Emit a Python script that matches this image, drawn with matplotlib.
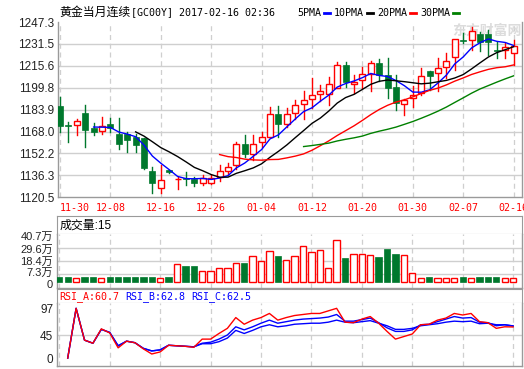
import numpy as np
import pandas as pd
import matplotlib
matplotlib.use('Agg')
import matplotlib.pyplot as plt
import matplotlib.transforms as mtransforms
from matplotlib.patches import Rectangle
from matplotlib.lines import Line2D

# ---- data ----
tick_idx = [0, 6, 12, 18, 24, 30, 36, 42, 48, 54]
tick_lab = ['11-30', '12-08', '12-16', '12-26', '01-04', '01-12', '01-20', '01-30', '02-07', '02-16']

opens = [1186.5, 1173.0, 1172.5, 1181.5, 1170.6, 1168.4, 1173.5, 1166.5, 1166.0, 1163.8,
         1163.4, 1139.5, 1127.4, 1140.0, 1133.7, 1134.2, 1133.5, 1130.6, 1130.6, 1135.4,
         1139.5, 1143.6, 1158.8, 1151.6, 1160.2, 1164.3, 1180.7, 1173.3, 1181.3, 1188.3,
         1191.4, 1195.0, 1195.0, 1199.9, 1216.3, 1202.7, 1205.4, 1209.5, 1217.5, 1209.0,
         1200.6, 1188.0, 1192.6, 1195.8, 1211.9, 1210.2, 1215.0, 1221.8, 1234.3, 1234.3,
         1238.4, 1238.4, 1227.1, 1227.1, 1224.7]
closes = [1172.3, 1171.8, 1175.4, 1169.4, 1167.9, 1171.8, 1170.8, 1158.8, 1161.9, 1158.5,
          1141.5, 1131.0, 1133.0, 1138.5, 1134.0, 1133.5, 1130.6, 1134.2, 1134.7, 1139.2,
          1142.1, 1158.8, 1151.8, 1158.8, 1163.8, 1180.7, 1173.3, 1180.6, 1187.3, 1190.7,
          1194.5, 1197.4, 1202.3, 1216.3, 1203.7, 1203.7, 1209.5, 1217.5, 1209.0, 1199.9,
          1189.0, 1190.9, 1194.5, 1208.5, 1208.5, 1213.8, 1219.4, 1235.1, 1233.6, 1241.1,
          1232.7, 1233.1, 1226.4, 1229.5, 1230.2]
highs = [1193.3, 1174.7, 1177.4, 1187.0, 1174.0, 1178.3, 1178.0, 1177.6, 1168.0, 1166.0,
         1163.6, 1142.6, 1143.8, 1140.5, 1134.9, 1139.0, 1134.9, 1136.6, 1136.6, 1143.8,
         1145.5, 1160.2, 1165.5, 1165.5, 1167.9, 1185.6, 1186.5, 1184.9, 1190.9, 1197.7,
         1207.1, 1201.8, 1207.8, 1218.7, 1218.2, 1209.0, 1215.0, 1219.4, 1220.6, 1221.1,
         1209.0, 1191.7, 1201.1, 1213.8, 1211.9, 1221.1, 1224.7, 1235.1, 1239.2, 1244.0,
         1240.4, 1241.6, 1233.1, 1231.9, 1234.3]
lows = [1168.0, 1160.2, 1165.8, 1157.1, 1165.5, 1166.3, 1168.0, 1155.6, 1153.0, 1153.0,
        1141.0, 1123.8, 1123.8, 1138.0, 1126.7, 1129.4, 1128.9, 1129.6, 1129.8, 1132.3,
        1137.1, 1140.9, 1149.9, 1147.2, 1157.1, 1164.3, 1164.0, 1171.6, 1176.9, 1176.9,
        1184.9, 1190.2, 1187.3, 1199.9, 1200.6, 1195.8, 1199.4, 1197.7, 1204.7, 1192.6,
        1183.7, 1180.1, 1186.1, 1194.5, 1198.2, 1197.4, 1206.6, 1212.6, 1231.9, 1227.1,
        1226.4, 1223.5, 1221.1, 1221.1, 1216.3]
# volume in 万
vols = [4.1, 4.1, 3.5, 4.1, 4.1, 3.5, 4.1, 4.1, 4.1, 4.1,
        4.1, 4.1, 3.5, 4.1, 16.0, 13.7, 13.7, 9.9, 9.9, 12.5,
        12.5, 16.9, 16.3, 22.9, 18.9, 27.3, 23.3, 19.5, 22.9, 31.7,
        26.4, 28.2, 12.5, 36.9, 21.5, 24.7, 24.7, 23.8, 22.4, 29.4,
        25.0, 23.8, 8.1, 3.8, 4.1, 3.8, 3.8, 3.8, 4.1, 3.8,
        4.1, 4.1, 4.1, 3.8, 3.8]
nan = np.nan
rsi_a = [nan, 0, 97, 35, 29, 57, 49, 20, 33, 30, 18, 8, 12, 25, 24, 23, 21, 37, 37, 48,
         58, 79, 66, 74, 79, 87, 74, 79, 83, 85, 87, 87, 92, 97, 70, 69, 76, 81, 68, 52,
         37, 42, 47, 65, 66, 74, 78, 87, 84, 87, 71, 69, 58, 61, 60.7]
rsi_b = [nan, 0, 97, 35, 29, 56, 50, 24, 33, 30, 19, 14, 16, 25, 24, 23, 22, 29, 31, 37,
         45, 61, 55, 61, 68, 74, 68, 71, 74, 76, 77, 78, 80, 85, 72, 72, 75, 78, 69, 59,
         52, 52, 55, 65, 66, 71, 76, 81, 78, 79, 70, 69, 63, 65, 62.8]
rsi_c = [nan, 0, 97, 35, 29, 56, 50, 24, 33, 30, 19, 14, 16, 25, 24, 23, 22, 28, 28, 32,
         39, 54, 48, 54, 61, 65, 61, 63, 66, 67, 68, 68, 70, 74, 70, 69, 71, 73, 68, 63,
         56, 56, 58, 63, 65, 67, 70, 72, 71, 72, 67, 68, 65, 65, 62.5]

price_ticks = [1120.5, 1136.3, 1152.2, 1168.0, 1183.9, 1199.8, 1215.6, 1231.5, 1247.3]
vol_ticks = [0, 7.3, 18.4, 29.6, 40.7]
vol_tick_lab = ['0', '7.3万', '18.4万', '29.6万', '40.7万']
rsi_ticks = [0, 45, 97]
ma_periods = [5, 10, 20, 30]
ma_colors = ['#0000ff', '#000000', '#ff0000', '#008000']

RED = '#ff0000'
GREEN = '#00782d'
GRID = '#cfcfcf'
EDGE = '#9a9a9a'
CJK = ['Liberation Sans', 'Noto Sans CJK SC']
MONO = 'DejaVu Sans Mono'

W, H = 524, 369
def box(x0, y0, x1, y1):
    # pixel box -> figure fraction
    return [x0/W, 1-y1/H, (x1-x0)/W, (y1-y0)/H]

fig = plt.figure(figsize=(W/100, H/100), dpi=100)
fig.patch.set_facecolor('white')

n = len(closes)
x = np.arange(n)
xlim = (-0.24, 55.0)
close_s = pd.Series(closes)

def style(ax):
    ax.set_xlim(*xlim)
    ax.spines['top'].set_visible(False)
    for s in ['left', 'right', 'bottom']:
        ax.spines[s].set_color(EDGE)
        ax.spines[s].set_linewidth(1)
    ax.set_xticks(tick_idx)
    for t in tick_idx:
        ax.axvline(t, color=GRID, lw=0.9, ls=(0, (4, 3)), zorder=0)
    ax.tick_params(length=0, labelsize=8.5, colors='#222222')

# ---- price panel ----
ax_p = fig.add_axes(box(58, 22.1, 522, 197.3))
style(ax_p)
ax_p.set_ylim(1120.5, 1247.3)
ax_p.set_yticks(price_ticks)
ax_p.set_yticklabels(['%.1f' % v for v in price_ticks], family='Liberation Sans')
for v in price_ticks[1:-1]:
    ax_p.axhline(v, color=GRID, lw=1, zorder=0)
ax_p.tick_params(axis='y', pad=2.5)
ax_p.set_xticklabels(tick_lab, family=MONO, fontsize=7.2, color=RED)
ax_p.tick_params(axis='x', pad=4)
ax_p.get_xticklabels()[0].set_horizontalalignment('left')

ax_p.text(452/W, 1-31/H, '东方财富网', transform=fig.transFigure, family='Noto Sans CJK SC',
          fontsize=10, fontweight='bold', color='#dcdcdc', va='center', zorder=0.5)

bw = 0.7
for i in range(n):
    o, c, hi, lo = opens[i], closes[i], highs[i], lows[i]
    if c >= o:
        ax_p.plot([i, i], [lo, o], color=RED, lw=1, zorder=3)
        ax_p.plot([i, i], [c, hi], color=RED, lw=1, zorder=3)
        ax_p.add_patch(Rectangle((i - bw/2, o), bw, max(c - o, 0.25), facecolor='white',
                                 edgecolor=RED, lw=1, zorder=3))
    else:
        ax_p.plot([i, i], [lo, hi], color=GREEN, lw=1, zorder=3)
        ax_p.add_patch(Rectangle((i - bw/2, c), bw, max(o - c, 0.25), facecolor=GREEN,
                                 edgecolor=GREEN, lw=0.5, zorder=3))

for p, col in zip(ma_periods, ma_colors):
    ax_p.plot(x, close_s.rolling(p).mean(), color=col, lw=1, zorder=4)

# ---- title / legend ----
ty = 1 - 12.5/H
fig.text(59/W, ty, '黄金当月连续', family='Noto Sans CJK SC', fontsize=8.6, va='center')
fig.text(131/W, ty, '[GC00Y] 2017-02-16 02:36', family=MONO, fontsize=7.2, va='center')
leg_x = [297, 334, 377, 420]
for lx, p, col in zip(leg_x, ma_periods, ma_colors):
    lab = '%dPMA' % p
    fig.text(lx/W, ty, lab, family=MONO, fontsize=7.2, va='center')
    x0 = lx + len(lab) * 6.0 + 3
    fig.add_artist(Line2D([x0/W, (x0+6)/W], [ty, ty], color=col, lw=2))

# ---- volume panel ----
ax_vh = fig.add_axes(box(57.3, 216, 521.5, 234))
ax_vh.set_xticks([]); ax_vh.set_yticks([])
for s in ax_vh.spines.values():
    s.set_color(EDGE)
ax_vh.text(0.004, 0.45, '成交量:15', transform=ax_vh.transAxes, family=CJK,
           fontsize=8.6, va='center')

ax_v = fig.add_axes(box(57.3, 234, 521.5, 288.3))
style(ax_v)
ax_v.set_ylim(-5.75, 42.4)
ax_v.set_xticklabels([])
ax_v.set_yticks(vol_ticks)
ax_v.set_yticklabels(vol_tick_lab, family=CJK, fontsize=8)
ax_v.tick_params(axis='y', pad=3)
# keep the bottom two labels apart, as in the source
shift = mtransforms.ScaledTranslation(0, -1.5/72, fig.dpi_scale_trans)
lab0 = ax_v.get_yticklabels()[0]
lab0.set_transform(lab0.get_transform() + shift)
lab1 = ax_v.get_yticklabels()[1]
lab1.set_transform(lab1.get_transform() + mtransforms.ScaledTranslation(0, 1.5/72, fig.dpi_scale_trans))
for v in vol_ticks[1:-1]:
    ax_v.axhline(v, color=GRID, lw=1, zorder=0)
vw = 0.75
for i in range(n):
    if closes[i] >= opens[i]:
        ax_v.add_patch(Rectangle((i - vw/2, 0), vw, vols[i], facecolor='white',
                                 edgecolor=RED, lw=1, zorder=3))
    else:
        ax_v.add_patch(Rectangle((i - vw/2, 0), vw, vols[i], facecolor=GREEN,
                                 edgecolor=GREEN, lw=0.5, zorder=3))

# ---- RSI panel ----
ax_rh = fig.add_axes(box(57.3, 289, 521.5, 303.3))
ax_rh.set_xticks([]); ax_rh.set_yticks([])
for s in ax_rh.spines.values():
    s.set_color(EDGE)
ax_rh.text(1.5/464, 0.45, 'RSI_A:60.7', transform=ax_rh.transAxes, family=MONO,
           fontsize=7.2, color=RED, va='center')
ax_rh.text(68/464, 0.45, 'RSI_B:62.8', transform=ax_rh.transAxes, family=MONO,
           fontsize=7.2, color='#0000ff', va='center')
ax_rh.text(134/464, 0.45, 'RSI_C:62.5', transform=ax_rh.transAxes, family=MONO,
           fontsize=7.2, color='#0000ff', va='center')

ax_r = fig.add_axes(box(57.3, 303.3, 521.5, 366))
style(ax_r)
ax_r.set_ylim(-15.4, 106.8)
ax_r.set_xticklabels([])
ax_r.set_yticks(rsi_ticks)
ax_r.set_yticklabels([str(v) for v in rsi_ticks], family='Liberation Sans')
ax_r.tick_params(axis='y', pad=3)
ax_r.axhline(45, color=GRID, lw=1, zorder=0)
ax_r.plot(x, rsi_c, color='#0000ff', lw=1, zorder=3)
ax_r.plot(x, rsi_b, color='#0000ff', lw=1, zorder=3)
ax_r.plot(x, rsi_a, color=RED, lw=1, zorder=4)

fig.savefig('out.png', dpi=100)
